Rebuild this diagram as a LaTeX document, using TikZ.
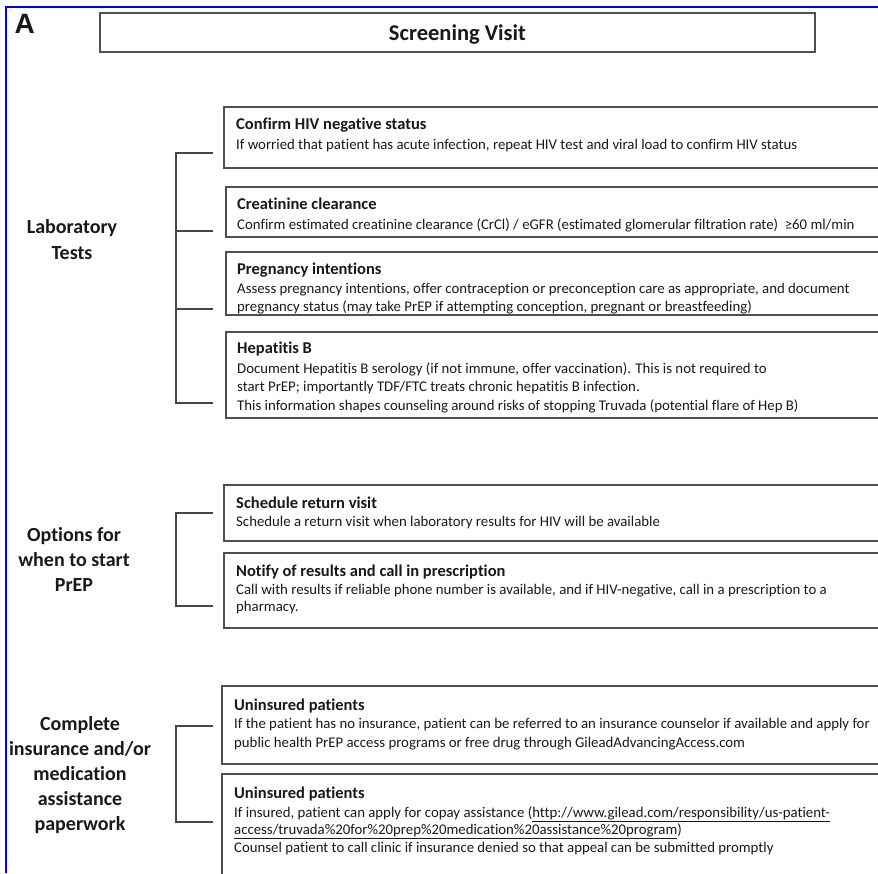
\documentclass[tikz,border=0pt]{standalone}
\usepackage{fontspec}
\setmainfont{Carlito}[Ligatures={NoCommon}]
\newfontfamily\afont{Liberation Sans}
\definecolor{frameblue}{RGB}{0,0,255}
\definecolor{boxgray}{RGB}{80,80,80}
\definecolor{brkgray}{RGB}{70,70,70}
\definecolor{txt}{RGB}{25,25,25}
\tikzset{
  boxframe/.style={draw=boxgray, line width=1.6pt},
  brk/.style={draw=brkgray, line width=1.3pt},
  ttl/.style={anchor=base west, inner sep=0pt, font=\fontsize{16.5}{19}\selectfont\bfseries, text=txt},
  bdy/.style={anchor=base west, inner sep=0pt, font=\fontsize{14.8}{17}\selectfont, text=txt},
  lbl/.style={anchor=base, inner sep=0pt, font=\fontsize{20}{23}\selectfont\bfseries, text=txt},
}
\begin{document}
\begin{tikzpicture}[x=1pt,y=-1pt]
\useasboundingbox (0,0) rectangle (878,873);
\fill[white] (0,0) rectangle (878,873);

% panel letter and title
\node[anchor=base west, inner sep=0pt, font=\afont\fontsize{28}{30}\selectfont\bfseries, text=txt] (A) at (14.5,33) {A};
\draw[boxframe] (100,13) rectangle (815,52);
\node[anchor=base, inner sep=0pt, font=\fontsize{22.5}{25}\selectfont\bfseries, text=txt] (title) at (457.5,40) {Screening Visit};

% ---------------- Laboratory tests ----------------
\node[lbl] (lab1) at (72,233) {Laboratory};
\node[lbl] (lab2) at (72,259) {Tests};
\draw[brk] (213,153) -- (176,153) -- (176,403) -- (213,403);
\draw[brk] (176,231) -- (213,231);
\draw[brk] (176,309) -- (213,309);

\draw[boxframe] (224,107) rectangle (890,168);
\node[ttl] (b1t) at (236,129.5) {Confirm HIV negative status};
\node[bdy] (b1a) at (236,149) {If worried that patient has acute infection, repeat HIV test and viral load to confirm HIV status};

\draw[boxframe] (226,187) rectangle (890,237);
\node[ttl] (b2t) at (237,209.5) {Creatinine clearance};
\node[bdy] (b2a) at (237,229) {Confirm estimated creatinine clearance (CrCl) / eGFR (estimated glomerular filtration rate) \ ≥60 ml/min};

\begin{scope}
\clip (226,252) rectangle (890,313);
\node[ttl] (b3t) at (237,274.5) {Pregnancy intentions};
\node[bdy] (b3a) at (237,293) {Assess pregnancy intentions, offer contraception or preconception care as appropriate, and document};
\node[bdy] (b3b) at (237,311) {pregnancy status (may take PrEP if attempting conception, pregnant or breastfeeding)};
\end{scope}
\draw[boxframe] (226,252) rectangle (890,315);

\draw[boxframe] (226,332) rectangle (890,418);
\node[ttl] (b4t) at (237,353.5) {Hepatitis B};
\node[bdy] (b4a) at (237,373) {Document Hepatitis B serology (if not immune, offer vaccination). This is not required to};
\node[bdy] (b4b) at (237,391.5) {start PrEP; importantly TDF/FTC treats chronic hepatitis B infection.};
\node[bdy] (b4c) at (237,410) {This information shapes counseling around risks of stopping Truvada (potential flare of Hep B)};

% ---------------- Options ----------------
\node[lbl] (opt1) at (74,541) {Options for};
\node[lbl] (opt2) at (74,566) {when to start};
\node[lbl] (opt3) at (74,591) {PrEP};
\draw[brk] (213,513) -- (176,513) -- (176,606) -- (213,606);

\draw[boxframe] (224,485) rectangle (890,541);
\node[ttl] (b5t) at (236,508.5) {Schedule return visit};
\node[bdy] (b5a) at (236,526) {Schedule a return visit when laboratory results for HIV will be available};

\draw[boxframe] (224,553) rectangle (890,628);
\node[ttl] (b6t) at (236,576.5) {Notify of results and call in prescription};
\node[bdy] (b6a) at (236,594) {Call with results if reliable phone number is available, and if HIV-negative, call in a prescription to a};
\node[bdy] (b6b) at (236,611) {pharmacy.};

% ---------------- Insurance ----------------
\node[lbl] (ins1) at (80,730) {Complete};
\node[lbl] (ins2) at (80,755) {insurance and/or};
\node[lbl] (ins3) at (80,780) {medication};
\node[lbl] (ins4) at (80,805) {assistance};
\node[lbl] (ins5) at (80,830) {paperwork};
\draw[brk] (213,726) -- (176,726) -- (176,822) -- (213,822);

\draw[boxframe] (222,686) rectangle (890,764);
\node[ttl] (b7t) at (234,710.5) {Uninsured patients};
\node[bdy] (b7a) at (234,728) {If the patient has no insurance, patient can be referred to an insurance counselor if available and apply for};
\node[bdy] (b7b) at (234,747) {public health PrEP access programs or free drug through GileadAdvancingAccess.com};

\draw[boxframe] (222,774) rectangle (890,890);
\node[ttl] (b8t) at (234,798.5) {Uninsured patients};
\node[bdy] (b8a) at (234,817) {If insured, patient can apply for copay assistance (\underline{http://www.gilead.com/responsibility/us-patient-}};
\node[bdy] (b8b) at (234,834) {\underline{access/truvada\%20for\%20prep\%20medication\%20assistance\%20program})};
\node[bdy] (b8c) at (234,852) {Counsel patient to call clinic if insurance denied so that appeal can be submitted promptly};

% blue frame
\draw[frameblue, line width=2.5pt] (6,873) -- (6,7) -- (880,7);
\end{tikzpicture}
\end{document}
